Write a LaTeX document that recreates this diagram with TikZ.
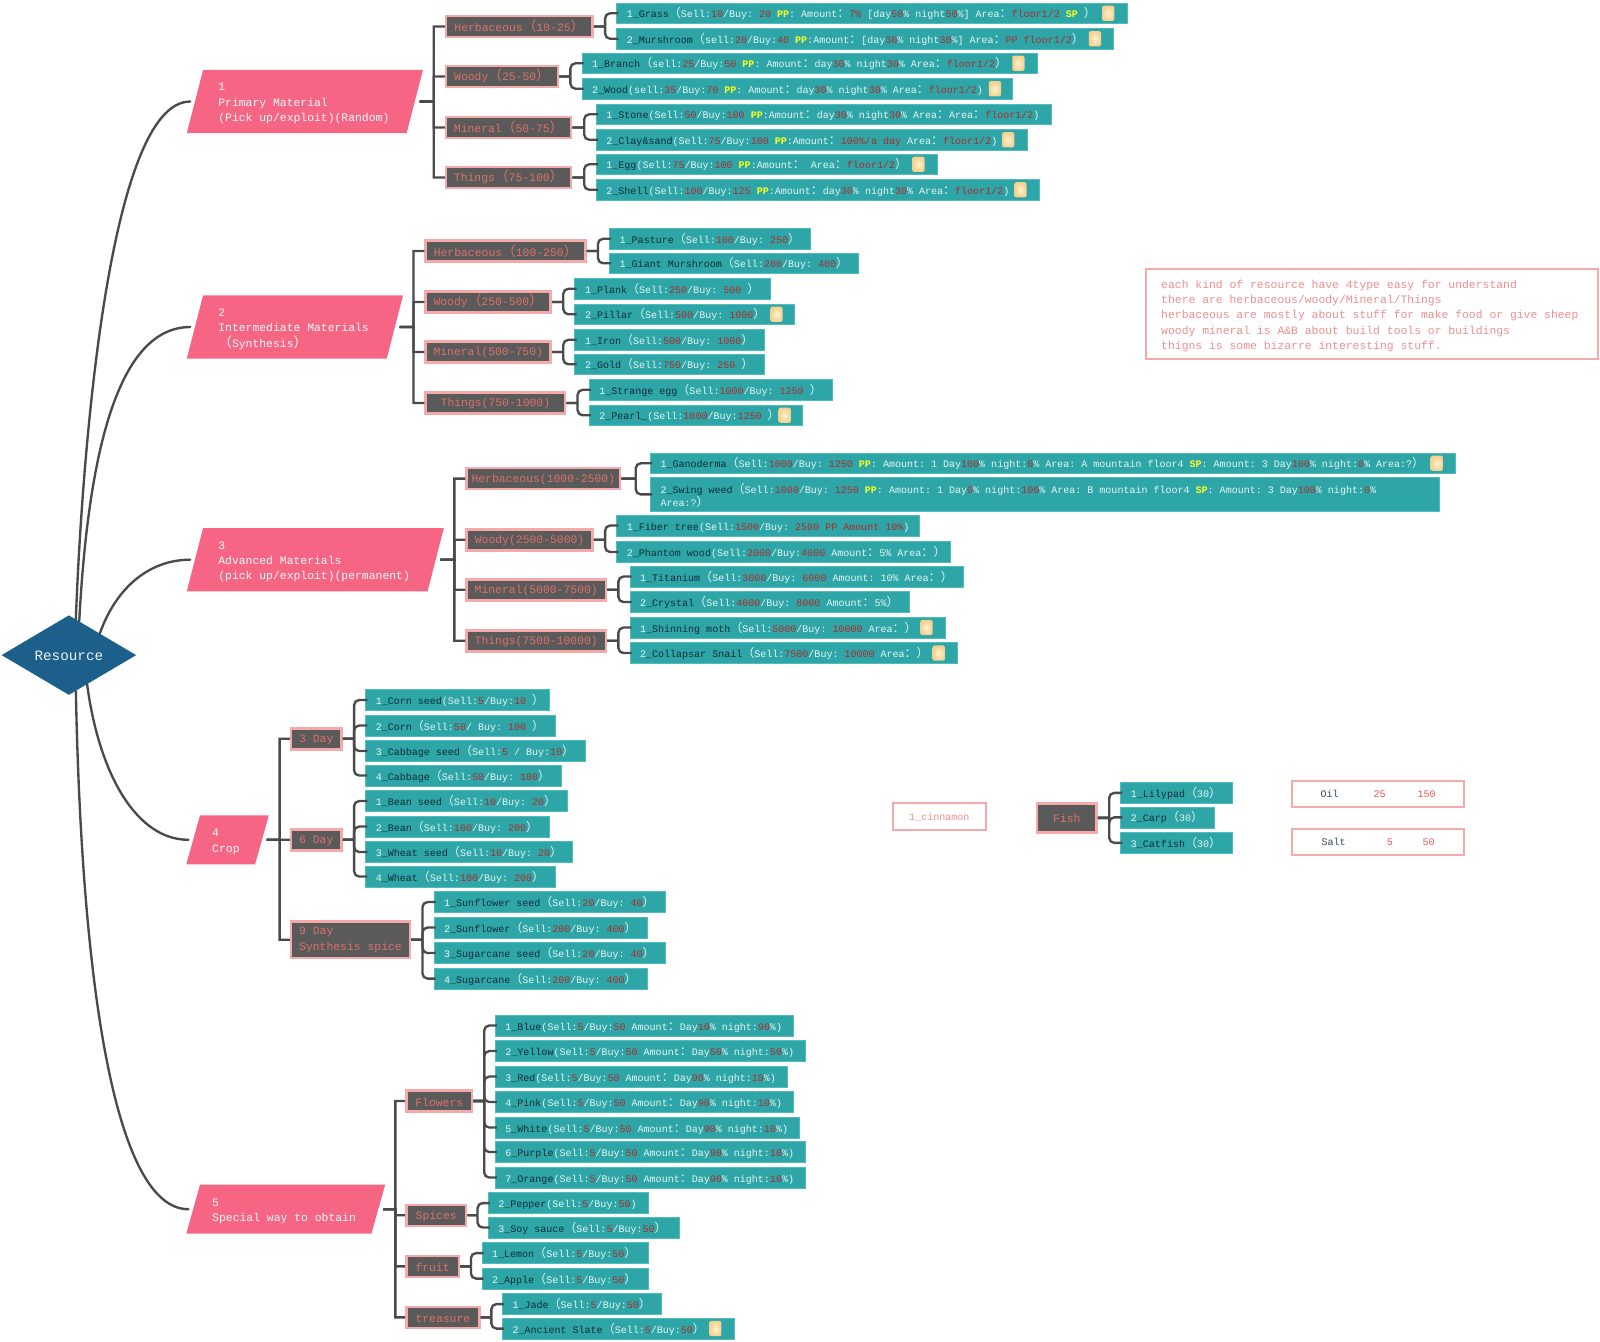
\documentclass[tikz,border=0pt]{standalone}
\usepackage{fontspec}
\setmainfont{Liberation Mono}
\newfontfamily\cjk[Scale=1.2]{Noto Sans CJK SC}
\usetikzlibrary{shapes.geometric, positioning, calc}
\definecolor{rootblue}{HTML}{1C5F8B}
\definecolor{topicpink}{HTML}{F76584}
\definecolor{grpgrey}{HTML}{5A5A5A}
\definecolor{grpedge}{HTML}{F6A9A9}
\definecolor{grptext}{HTML}{DB716C}
\definecolor{leafteal}{HTML}{2EA6A7}
\definecolor{leafedge}{HTML}{4FBDBD}
\definecolor{leaftext}{HTML}{E6F5F5}
\definecolor{nameink}{HTML}{0F2C3A}
\definecolor{numred}{HTML}{AE2A2C}
\definecolor{ppyellow}{HTML}{FFFF1E}
\definecolor{linegrey}{HTML}{4A4A4A}
\definecolor{notetext}{HTML}{EE8F8F}
\definecolor{tablered}{HTML}{EA5656}
\definecolor{tableink}{HTML}{34485A}
\definecolor{iconin}{HTML}{FFF3D2}
\definecolor{iconout}{HTML}{F5D08E}
\newcommand{\lp}{\smash{\cjk （}}
\newcommand{\rp}{\smash{\cjk ）}}
\newcommand{\cl}{\smash{\cjk ：}}
\newcommand{\nm}[2]{#1\textcolor{nameink}{\_#2}}
\newcommand{\rd}[1]{\textcolor{numred}{#1}}
\newcommand{\yl}[1]{\textcolor{ppyellow}{\textbf{#1}}}
\tikzset{lowtext/.style = {execute at begin node={\spaceskip=0pt\xspaceskip=0pt\rule{0pt}{#1}}}}
\tikzset{root/.style = {
	diamond, fill=rootblue, text=leaftext, inner sep=0pt, aspect=1.69,
	minimum width=132pt, minimum height=78pt, lowtext=11pt,
	font=\fontsize{14}{16}\selectfont
	}}
\tikzset{topic/.style = {
	trapezium, trapezium left angle=70, trapezium right angle=110,
	trapezium stretches=true,
	fill=topicpink, text=leaftext!50!white, align=left, outer sep=4.5pt,
	inner xsep=15pt, inner ysep=0pt, lowtext=11.5pt,
	font=\fontsize{11.17}{15}\selectfont
	}}
\tikzset{grp/.style = {
	rectangle, fill=grpgrey, draw=grpedge, line width=2.5pt, text=grptext,
	align=left, inner sep=0pt, minimum height=20.5pt, lowtext=10pt,
	font=\fontsize{11.17}{15}\selectfont
	}}
\tikzset{leaf/.style = {
	rectangle, anchor=west, fill=leafteal, draw=leafedge, line width=0.6pt,
	text=leaftext, align=left, inner xsep=10pt, inner ysep=0pt,
	minimum height=20.5pt, lowtext=11pt,
	font=\fontsize{9.82}{12.5}\selectfont
	}}
\tikzset{paper/.style = {
	rectangle, fill=white, draw=grpedge, line width=2pt, align=left,
	inner sep=0pt
	}}
\tikzset{icon/.style = {
	rectangle, rounded corners=2pt, inner sep=0pt,
	minimum width=12pt, minimum height=15pt,
	inner color=iconin, outer color=iconout
	}}
\tikzset{stem/.style = {draw=linegrey, line width=2.3pt}}
\tikzset{curve/.style = {stem, line cap=round}}
\tikzset{spine/.style = {stem,
	to path = {-- ($(\tikztostart)!0.56!(\tikztostart -| \tikztotarget)$) |- (\tikztotarget)}
	}}
\tikzset{fork/.style = {stem, rounded corners=5pt, shorten >=-2pt,
	to path = {-- ($(\tikztostart)!0.5!(\tikztostart -| \tikztotarget)$) ($(\tikztostart)!0.5!(\tikztostart -| \tikztotarget)$) |- (\tikztotarget)}
	}}
\newcommand{\leaf}[5]{%
	\pgfmathsetlengthmacro{\boxw}{#3-#2-20}
	\node[leaf, text width=\boxw] (#1) at (#2,#4) {\mbox{#5}};}
\newcommand{\grp}[6][]{%
	\pgfmathsetlengthmacro{\boxw}{#4-#3-2.5}
	\node[grp, minimum width=\boxw, #1] (#2) at ({(#3+#4)/2},#5) {#6};}
\begin{document}
\frenchspacing
\begin{tikzpicture}[x=1pt, y=-1pt]

	\path[use as bounding box, fill=white] (0,0) rectangle (1568,1314.2);

	% Root and topics
	\node[root] (root) at (67.5,642) {Resource};
	\node[topic, text width=169.5pt, minimum width=229.5pt, minimum height=62pt] (topicA) at (298.75,99.5) {1\\Primary Material\\(Pick up/exploit)(Random)};
	\node[topic, text width=150pt, minimum width=210pt, minimum height=62pt] (topicB) at (289,320.5) {2\\Intermediate Materials\\\lp Synthesis\rp};
	\node[topic, text width=190pt, minimum width=250pt, minimum height=62pt] (topicC) at (309,548.5) {3\\Advanced Materials\\(pick up/exploit)(permanent)};
	\node[topic, trapezium left angle=65, trapezium right angle=115, inner xsep=12pt, text width=30pt, minimum width=78pt, minimum height=48pt] (topicD) at (223,823) {4\\Crop};
	\node[topic, trapezium left angle=65, trapezium right angle=115, inner xsep=12pt, text width=144pt, minimum width=192pt, minimum height=48pt] (topicE) at (280,1185) {5\\Special way to obtain};

	% Primary material
	\grp{herbA}{436}{582}{26}{Herbaceous\lp 10-25\rp}
	\grp{woodyA}{436}{548}{75}{Woody\lp 25-50\rp}
	\grp{minA}{436}{561}{125}{Mineral\lp 50-75\rp}
	\grp{thingA}{436}{561}{174}{Things\lp 75-100\rp}
	\leaf{grass}{604}{1104}{13}{\nm{1}{Grass}\lp Sell:\rd{10}/Buy: \rd{20} \yl{PP}: Amount\cl\rd{7\%} [day\rd{50}\% night\rd{50}\%] Area\cl\rd{floor1/2} \yl{SP} \rp}
	\leaf{mush}{604}{1091}{38}{\nm{2}{Murshroom}\lp sell:\rd{20}/Buy:\rd{40} \yl{PP}:Amount\cl[day\rd{30}\% night\rd{30}\%] Area\cl\rd{PP floor1/2}\rp}
	\leaf{branch}{570}{1016}{62}{\nm{1}{Branch}\lp sell:\rd{25}/Buy:\rd{50} \yl{PP}: Amount\cl day\rd{30}\% night\rd{30}\% Area\cl\rd{floor1/2}\rp}
	\leaf{wood}{570}{992}{87}{\nm{2}{Wood}(sell:\rd{35}/Buy:\rd{70} \yl{PP}: Amount\cl day\rd{30}\% night\rd{30}\% Area\cl\rd{floor1/2})}
	\leaf{stone}{584}{1030}{112}{\nm{1}{Stone}(Sell:\rd{50}/Buy:\rd{100} \yl{PP}:Amount\cl day\rd{30}\% night\rd{30}\% Area\cl Area\cl\rd{floor1/2})}
	\leaf{clay}{584}{1006}{137}{\nm{2}{Clay\&sand}(Sell:\rd{75}/Buy:\rd{100} \yl{PP}:Amount\cl\rd{100\%/a day} Area\cl\rd{floor1/2})}
	\leaf{egg}{584}{918}{161}{\nm{1}{Egg}(Sell:\rd{75}/Buy:\rd{100} \yl{PP}:Amount\cl\space Area\cl\rd{floor1/2}\rp}
	\leaf{shell}{584}{1018}{186}{\nm{2}{Shell}(Sell:\rd{100}/Buy:\rd{125} \yl{PP}:Amount\cl day\rd{30}\% night\rd{30}\% Area\cl\rd{floor1/2})}

	% Intermediate materials
	\grp{herbB}{416}{575}{246}{Herbaceous\lp 100-250\rp}
	\grp{woodyB}{416}{541}{296}{Woody\lp 250-500\rp}
	\grp{minB}{416}{541}{345}{Mineral(500-750)}
	\grp{thingB}{416}{555}{395}{Things(750-1000)}
	\leaf{pasture}{597}{794}{234}{\nm{1}{Pasture}\lp Sell:\rd{100}/Buy: \rd{250}\rp}
	\leaf{giant}{597}{841}{258}{\nm{1}{Giant Murshroom}\lp Sell:\rd{200}/Buy: \rd{400}\rp}
	\leaf{plank}{563}{755}{283}{\nm{1}{Plank}\lp Sell:\rd{250}/Buy: \rd{500} \rp}
	\leaf{pillar}{563}{778}{308}{\nm{2}{Pillar}\lp Sell:\rd{500}/Buy: \rd{1000}\rp}
	\leaf{iron}{563}{749}{333}{\nm{1}{Iron}\lp Sell:\rd{500}/Buy: \rd{1000}\rp}
	\leaf{gold}{563}{749}{357}{\nm{2}{Gold}\lp Sell:\rd{750}/Buy: \rd{250} \rp}
	\leaf{strange}{577}{815}{382}{\nm{1}{Strange egg}\lp Sell:\rd{1000}/Buy: \rd{1250} \rp}
	\leaf{pearl}{577}{786}{407}{\nm{2}{Pearl\_}(Sell:\rd{1000}/Buy:\rd{1250} \rp}

	% Advanced materials
	\grp{herbC}{456}{609}{469}{Herbaceous(1000-2500)}
	\grp{woodyC}{456}{582}{529}{Woody(2500-5000)}
	\grp{minC}{456}{595}{578}{Mineral(5000-7500)}
	\grp{thingC}{456}{595}{628}{Things(7500-10000)}
	\leaf{ganoderma}{637}{1426}{454}{\nm{1}{Ganoderma}\lp Sell:\rd{1000}/Buy: \rd{1250} \yl{PP}: Amount: 1 Day\rd{100}\% night:\rd{0}\% Area: A mountain floor4 \yl{SP}: Amount: 3 Day\rd{100}\% night:\rd{0}\% Area:?\rp}
	\node[leaf, text width=753pt, minimum height=33pt] (swing) at (637,484.5) {\mbox{\nm{2}{Swing weed}\lp Sell:\rd{1000}/Buy: \rd{1250} \yl{PP}: Amount: 1 Day\rd{0}\% night:\rd{100}\% Area: B mountain floor4 \yl{SP}: Amount: 3 Day\rd{100}\% night:\rd{0}\%}\\Area:?\rp};
	\leaf{fiber}{604}{901}{515}{\nm{1}{Fiber tree}(Sell:\rd{1500}/Buy: \rd{2500 PP Amount 10\%})}
	\leaf{phantom}{604}{931}{541}{\nm{2}{Phantom wood}(Sell:\rd{2000}/Buy:\rd{4000} Amount\cl 5\% Area\cl\rp}
	\leaf{titanium}{617}{944}{565}{\nm{1}{Titanium}\lp Sell:\rd{3000}/Buy: \rd{6000} Amount: 10\% Area\cl\rp}
	\leaf{crystal}{617}{891}{590}{\nm{2}{Crystal}\lp Sell:\rd{4000}/Buy: \rd{8000} Amount\cl 5\%\rp}
	\leaf{moth}{617}{926}{615}{\nm{1}{Shinning moth}\lp Sell:\rd{5000}/Buy: \rd{10000} Area\cl\rp}
	\leaf{snail}{617}{938}{640}{\nm{2}{Collapsar Snail}\lp Sell:\rd{7500}/Buy: \rd{10000} Area\cl\rp}

	% Crop
	\grp{dayC}{284}{336}{724}{3 Day}
	\grp{dayF}{284}{336}{823}{6 Day}
	\grp[minimum height=36pt]{dayN}{284}{403}{921}{9 Day\\Synthesis spice}
	\leaf{cornseed}{358}{538}{686}{\nm{1}{Corn seed}(Sell:\rd{5}/Buy:\rd{10} \rp}
	\leaf{corn}{358}{544}{711}{\nm{2}{Corn}\lp Sell:\rd{50}/ Buy: \rd{100} \rp}
	\leaf{cabseed}{358}{573}{736}{\nm{3}{Cabbage seed}\lp Sell:\rd{5} / Buy:\rd{10}\rp}
	\leaf{cabbage}{358}{550}{760}{\nm{4}{Cabbage}\lp Sell:\rd{50}/Buy: \rd{100}\rp}
	\leaf{beanseed}{358}{556}{785}{\nm{1}{Bean seed}\lp Sell:\rd{10}/Buy: \rd{20}\rp}
	\leaf{bean}{358}{538}{810}{\nm{2}{Bean}\lp Sell:\rd{100}/Buy: \rd{200}\rp}
	\leaf{wheatseed}{358}{561}{835}{\nm{3}{Wheat seed}\lp Sell:\rd{10}/Buy: \rd{20}\rp}
	\leaf{wheat}{358}{544}{859}{\nm{4}{Wheat}\lp Sell:\rd{100}/Buy: \rd{200}\rp}
	\leaf{sunseed}{425}{652}{884}{\nm{1}{Sunflower seed}\lp Sell:\rd{20}/Buy: \rd{40}\rp}
	\leaf{sunflower}{425}{634}{909}{\nm{2}{Sunflower}\lp Sell:\rd{200}/Buy: \rd{400}\rp}
	\leaf{sugarseed}{425}{652}{934}{\nm{3}{Sugarcane seed}\lp Sell:\rd{20}/Buy: \rd{40}\rp}
	\leaf{sugar}{425}{634}{959}{\nm{4}{Sugarcane}\lp Sell:\rd{200}/Buy: \rd{400}\rp}

	% Special way to obtain
	\grp{flowers}{397}{464}{1079}{Flowers}
	\grp{spices}{397}{458}{1191}{Spices}
	\grp{fruit}{397}{451}{1241}{fruit}
	\grp{treasure}{397}{471}{1291}{treasure}
	\leaf{blue}{485}{777}{1005}{\nm{1}{Blue}(Sell:\rd{5}/Buy:\rd{50} Amount\cl Day\rd{10}\% night:\rd{90}\%)}
	\leaf{yellow}{485}{789}{1030}{\nm{2}{Yellow}(Sell:\rd{5}/Buy:\rd{50} Amount\cl Day\rd{50}\% night:\rd{50}\%)}
	\leaf{redf}{485}{771}{1055}{\nm{3}{Red}(Sell:\rd{5}/Buy:\rd{50} Amount\cl Day\rd{90}\% night:\rd{10}\%)}
	\leaf{pink}{485}{777}{1080}{\nm{4}{Pink}(Sell:\rd{5}/Buy:\rd{50} Amount\cl Day\rd{90}\% night:\rd{10}\%)}
	\leaf{whitef}{485}{783}{1105}{\nm{5}{White}(Sell:\rd{5}/Buy:\rd{50} Amount\cl Day\rd{90}\% night:\rd{10}\%)}
	\leaf{purple}{485}{789}{1129}{\nm{6}{Purple}(Sell:\rd{5}/Buy:\rd{50} Amount\cl Day\rd{90}\% night:\rd{10}\%)}
	\leaf{orangef}{485}{789}{1154}{\nm{7}{Orange}(Sell:\rd{5}/Buy:\rd{50} Amount\cl Day\rd{90}\% night:\rd{10}\%)}
	\leaf{pepper}{478}{635}{1179}{\nm{2}{Pepper}(Sell:\rd{5}/Buy:\rd{50})}
	\leaf{soy}{478}{665}{1203}{\nm{3}{Soy sauce}\lp Sell:\rd{5}/Buy:\rd{50}\rp}
	\leaf{lemon}{472}{635}{1228}{\nm{1}{Lemon}\lp Sell:\rd{5}/Buy:\rd{50}\rp}
	\leaf{apple}{472}{635}{1253}{\nm{2}{Apple}\lp Sell:\rd{5}/Buy:\rd{50}\rp}
	\leaf{jade}{492}{648}{1278}{\nm{1}{Jade}\lp Sell:\rd{5}/Buy:\rd{50}\rp}
	\leaf{slate}{492}{719}{1302}{\nm{2}{Ancient Slate}\lp Sell:\rd{5}/Buy:\rd{50}\rp}

	% Fish and the loose boxes
	\grp[minimum height=28.5pt]{fish}{1015}{1076}{801.5}{Fish}
	\leaf{lilypad}{1098}{1207}{777}{\nm{1}{Lilypad}\lp 30\rp}
	\leaf{carp}{1098}{1190}{801}{\nm{2}{Carp}\lp 30\rp}
	\leaf{catfish}{1098}{1207}{826}{\nm{3}{Catfish}\lp 30\rp}
	\node[paper, lowtext=10pt, minimum width=91pt, minimum height=27pt, text=notetext, font=\fontsize{9.82}{12}\selectfont] (cinnamon) at (920.5,800) {1\_cinnamon};
	\node[paper, anchor=west, minimum width=169pt, minimum height=26pt, inner xsep=26pt, text=tableink, font=\fontsize{9.82}{12}\selectfont] (oil) at (1265,778) {\makebox[52pt][l]{Oil}\makebox[43pt][l]{\textcolor{tablered}{25}}\textcolor{tablered}{150}};
	\node[paper, anchor=west, minimum width=169pt, minimum height=26pt, inner xsep=26pt, text=tableink, font=\fontsize{9.82}{12}\selectfont] (salt) at (1265,825) {\makebox[64pt][l]{Salt}\makebox[35pt][l]{\textcolor{tablered}{5}}\textcolor{tablered}{50}};
	\node[paper, lowtext=11.5pt, minimum height=88pt, inner xsep=15pt, text width=413pt, text=notetext, font=\fontsize{11.17}{15}\selectfont] (note) at (1344.5,308) {each kind of resource have 4type easy for understand\\there are herbaceous/woody/Mineral/Things\\herbaceous are mostly about stuff for make food or give sheep\\woody mineral is A\&B about build tools or buildings\\thigns is some bizarre interesting stuff.};

	% Little icons
	\foreach \ix/\iy [count=\i] in {1086/13, 1073/38, 998/62, 975/87, 988/137, 900/161, 1000/186, 761/308, 769/407, 1408/454, 908/615, 920/640, 701/1302}
		\node[icon] (icon\i) at (\ix,\iy) {};

	% Curves from the root
	\draw[curve] (root.79) .. controls +(6,-160) and +(-80,0) .. (topicA.west);
	\draw[curve] (root.73) .. controls +(8,-150) and +(-75,0) .. (topicB.west);
	\draw[curve] (root.35) .. controls +(16,-45) and +(-40,0) .. (topicC.west);
	\draw[curve] (root.-58) .. controls +(12,90) and +(-50,0) .. (topicD.west);
	\draw[curve] (root.-79) .. controls +(6,300) and +(-70,0) .. (topicE.west);

	% Spines to the groups
	\foreach \t/\g in {topicA/herbA, topicA/woodyA, topicA/minA, topicA/thingA,
		topicB/herbB, topicB/woodyB, topicB/minB, topicB/thingB,
		topicC/herbC, topicC/woodyC, topicC/minC, topicC/thingC,
		topicD/dayC, topicD/dayF, topicD/dayN,
		topicE/flowers, topicE/spices, topicE/fruit, topicE/treasure}
		\draw[spine] (\t.east) to (\g.west);

	% Forks to the leaves
	\foreach \g/\l in {herbA/grass, herbA/mush, woodyA/branch, woodyA/wood, minA/stone, minA/clay, thingA/egg, thingA/shell,
		herbB/pasture, herbB/giant, woodyB/plank, woodyB/pillar, minB/iron, minB/gold, thingB/strange, thingB/pearl,
		herbC/ganoderma, herbC/swing, woodyC/fiber, woodyC/phantom, minC/titanium, minC/crystal, thingC/moth, thingC/snail,
		dayC/cornseed, dayC/corn, dayC/cabseed, dayC/cabbage, dayF/beanseed, dayF/bean, dayF/wheatseed, dayF/wheat,
		dayN/sunseed, dayN/sunflower, dayN/sugarseed, dayN/sugar,
		flowers/blue, flowers/yellow, flowers/redf, flowers/pink, flowers/whitef, flowers/purple, flowers/orangef,
		spices/pepper, spices/soy, fruit/lemon, fruit/apple, treasure/jade, treasure/slate,
		fish/lilypad, fish/carp, fish/catfish}
		\draw[fork] (\g.east) to (\l.west);

\end{tikzpicture}
\end{document}
